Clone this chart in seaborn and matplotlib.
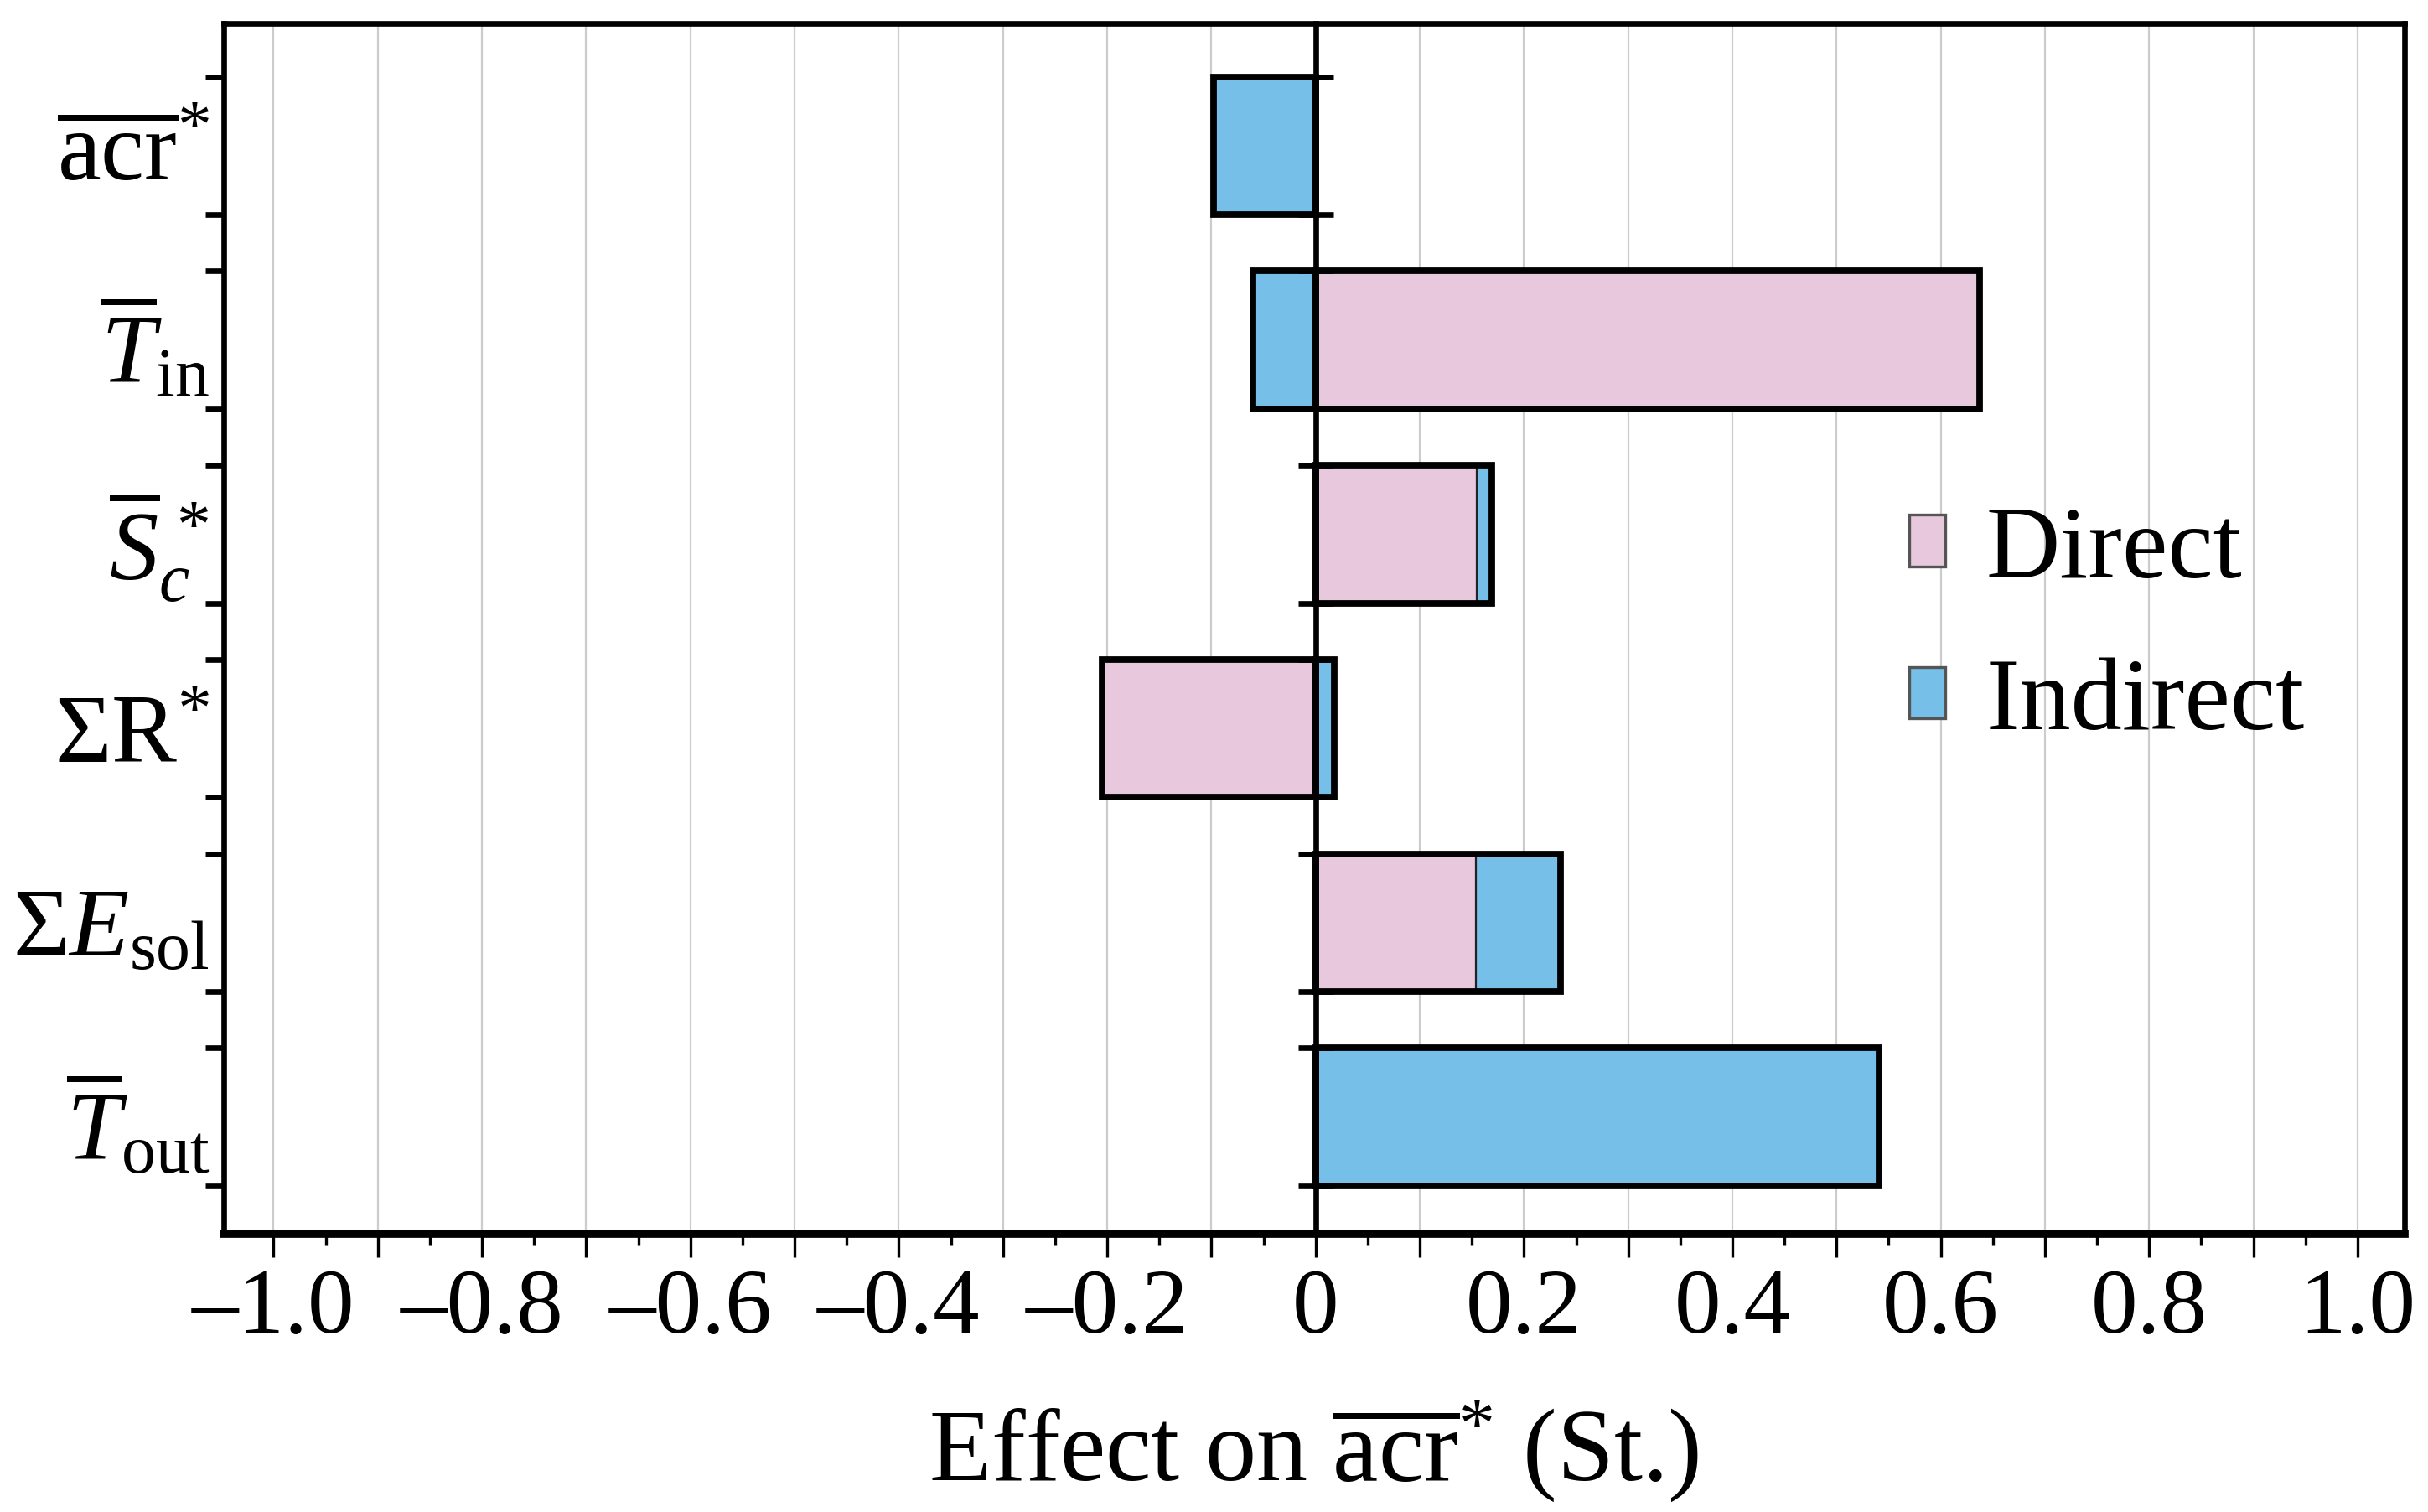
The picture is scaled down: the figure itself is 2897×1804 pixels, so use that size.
import numpy as np
import matplotlib
matplotlib.use("Agg")
import matplotlib.pyplot as plt
import matplotlib.patches as mpatches
from matplotlib.ticker import MultipleLocator, FuncFormatter
import seaborn as sns
import pandas as pd

# values (standardised effects)
labels = [r'$\overline{\mathrm{acr}}^{*}$',
          r'$\overline{T}_{\mathrm{in}}$',
          r'$\overline{S}_{c}^{\,*}$',
          r'$\Sigma\mathrm{R}^{*}$',
          r'$\Sigma E_{\mathrm{sol}}$',
          r'$\overline{T}_{\mathrm{out}}$']
direct = [0.0, 0.637, 0.155, -0.205, 0.154, 0.0]
indirect = [-0.098, -0.060, 0.014, 0.018, 0.081, 0.541]

pink = '#E8C8DC'
blue = '#75BFE9'
bar_w = 0.71

sns.set_style('white')
plt.rcParams['font.family'] = ['Liberation Serif', 'DejaVu Serif']
plt.rcParams['mathtext.fontset'] = 'custom'
plt.rcParams['mathtext.rm'] = 'Liberation Serif'
plt.rcParams['mathtext.it'] = 'Liberation Serif:italic'
plt.rcParams['mathtext.bf'] = 'Liberation Serif:bold'
for k in ['text.color', 'axes.labelcolor', 'xtick.color', 'ytick.color', 'axes.edgecolor']:
    plt.rcParams[k] = 'black'

df = pd.DataFrame({'var': labels, 'direct': direct, 'indirect': indirect})
# diverging stack: positives go right, negatives left, direct nearest to zero
df['pos_total'] = df['direct'].clip(lower=0) + df['indirect'].clip(lower=0)
df['neg_total'] = df['direct'].clip(upper=0) + df['indirect'].clip(upper=0)
df['direct_pos'] = df['direct'].clip(lower=0)
df['direct_neg'] = df['direct'].clip(upper=0)

fig = plt.figure(figsize=(14.485, 9.02), dpi=200)
ax = fig.add_axes([0.0921, 0.1843, 0.8982, 0.8002])

kw = dict(y='var', orient='h', width=bar_w, errorbar=None, ax=ax, order=labels)
sns.barplot(data=df, x='pos_total', color=blue, edgecolor='#222222', linewidth=0.8, saturation=1, **kw)
sns.barplot(data=df, x='neg_total', color=blue, edgecolor='#222222', linewidth=0.8, saturation=1, **kw)
sns.barplot(data=df, x='direct_pos', color=pink, edgecolor='#222222', linewidth=0.8, saturation=1, **kw)
sns.barplot(data=df, x='direct_neg', color=pink, edgecolor='#222222', linewidth=0.8, saturation=1, **kw)
# thick outline round each whole bar
sns.barplot(data=df, x='pos_total', color='black', fill=False, linewidth=2.8, **kw)
sns.barplot(data=df, x='neg_total', color='black', fill=False, linewidth=2.8, **kw)

ylim = (5.6, -0.63)
ax.set_xlim(-1.048, 1.045)
ax.set_ylim(*ylim)

# x axis
ax.xaxis.set_major_locator(MultipleLocator(0.1))
ax.xaxis.set_minor_locator(MultipleLocator(0.05))

def fmt(v, pos):
    if abs(round(v / 0.2) - v / 0.2) > 1e-6:
        return ''
    if abs(v) < 1e-9:
        return '0'
    return f'{v:.1f}'.replace('-', '\u2013')

ax.xaxis.set_major_formatter(FuncFormatter(fmt))
ax.tick_params(axis='x', which='major', direction='out', length=10, width=1.2,
               labelsize=40, pad=5, bottom=True)
ax.tick_params(axis='x', which='minor', direction='out', length=5, width=1.2, bottom=True)
ax.grid(axis='x', which='major', color='#cccccc', linewidth=0.8)
ax.set_axisbelow(True)

# y axis: labels at centres, tick marks at bar edges
pos = np.arange(len(labels))
edges = np.sort(np.concatenate([pos - bar_w / 2, pos + bar_w / 2]))
ax.set_yticks(pos)
ax.set_yticklabels(labels)
ax.set_yticks(edges, minor=True)
ax.tick_params(axis='y', which='major', length=0, pad=6, labelsize=42, left=True)
ax.tick_params(axis='y', which='minor', direction='out', length=8, width=2.4, left=True)

for side in ['top', 'right', 'left']:
    ax.spines[side].set_linewidth(2.4)
ax.spines['bottom'].set_linewidth(3.5)

ax.set_ylabel('')
ax.set_xlabel(r'Effect on $\overline{\mathrm{acr}}^{*}$ (St.)', fontsize=44, labelpad=20)

# zero line with its own tick marks
ax2 = ax.twinx()
ax2.set_ylim(*ylim)
for side in ['top', 'bottom', 'left']:
    ax2.spines[side].set_visible(False)
ax2.spines['right'].set_position(('data', 0))
ax2.spines['right'].set_linewidth(2.4)
ax2.set_yticks([])
ax2.set_yticks(edges, minor=True)
ax2.tick_params(axis='y', which='minor', direction='inout', length=15, width=2.4,
                right=True, labelright=False)

handles = [mpatches.Patch(facecolor=pink, edgecolor='#555555', linewidth=1.2, label='Direct'),
           mpatches.Patch(facecolor=blue, edgecolor='#555555', linewidth=1.2, label='Indirect')]
ax.legend(handles=handles, loc='center left', bbox_to_anchor=(0.773, 0.5), frameon=False,
          fontsize=44, handlelength=0.35, handleheight=0.4, handletextpad=0.4,
          labelspacing=0.57, borderpad=0, borderaxespad=0)

fig.savefig('out.png', dpi=200)
